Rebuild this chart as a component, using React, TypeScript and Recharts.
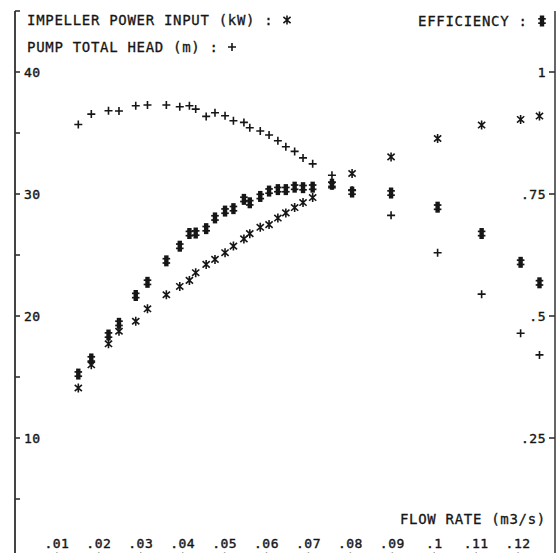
import React from 'react';
import { ScatterChart, Scatter, XAxis, YAxis } from 'recharts';

// Flow rate (m3/s) of each measurement
const flowRate = [
  0.0151, 0.0182, 0.0223, 0.0248, 0.0288, 0.0316, 0.0361, 0.0393, 0.0416, 0.0431,
  0.0456, 0.0477, 0.0501, 0.0521, 0.0546, 0.056, 0.0585, 0.0606, 0.0627, 0.0646,
  0.0667, 0.0687, 0.071, 0.0756, 0.0804, 0.0897, 0.1008, 0.1113, 0.1206, 0.1251,
];

// Pump total head (m) : +
const pumpHead = [
  35.7, 36.55, 36.82, 36.8, 37.23, 37.29, 37.29, 37.15, 37.23, 36.96,
  36.36, 36.66, 36.41, 36.0, 35.87, 35.43, 35.16, 34.83, 34.36, 33.87,
  33.49, 32.96, 32.47, 31.54, 30.3, 28.25, 25.19, 21.79, 18.59, 16.81,
];

// Impeller power input (kW) : *
const impellerPower = [
  14.1, 16.0, 17.72, 18.75, 19.57, 20.59, 21.74, 22.42, 22.92, 23.55,
  24.23, 24.64, 25.19, 25.73, 26.32, 26.75, 27.27, 27.49, 28.03, 28.45,
  28.89, 29.3, 29.71, 30.72, 31.68, 33.04, 34.55, 35.65, 36.11, 36.39,
];

// Efficiency : #
const efficiency = [
  0.381, 0.412, 0.461, 0.485, 0.542, 0.569, 0.613, 0.643, 0.669, 0.67,
  0.679, 0.701, 0.715, 0.72, 0.739, 0.732, 0.745, 0.756, 0.759, 0.759,
  0.764, 0.763, 0.764, 0.77, 0.754, 0.752, 0.723, 0.669, 0.61, 0.568,
];

const xTicks = [0.01, 0.02, 0.03, 0.04, 0.05, 0.06, 0.07, 0.08, 0.09, 0.1, 0.11, 0.12];
const xTickLabels = ['.01', '.02', '.03', '.04', '.05', '.06', '.07', '.08', '.09', '.1', '.11', '.12'];
const leftTicks = [0, 5, 10, 15, 20, 25, 30, 35, 40, 45];
const leftTickLabels = ['', '', '10', '', '20', '', '30', '', '40', ''];
const rightTicks = [0.25, 0.5, 0.75, 1];
const rightTickLabels = ['.25', '.5', '.75', '1'];

const headData = flowRate.map((x, i) => ({ x, y: pumpHead[i] }));
const powerData = flowRate.map((x, i) => ({ x, y: impellerPower[i] }));
const effData = flowRate.map((x, i) => ({ x, y: efficiency[i] }));

const FONT = "'DejaVu Sans Mono', 'Liberation Mono', monospace";
const INK = '#161616';

const PlusMark = ({ cx, cy }: any) => (
  <path
    d={`M${cx - 4},${cy} L${cx + 4},${cy} M${cx},${cy - 4} L${cx},${cy + 4}`}
    stroke={INK}
    strokeWidth={1.6}
    fill="none"
  />
);

const StarMark = ({ cx, cy }: any) => (
  <path
    d={`M${cx},${cy - 4.5} L${cx},${cy + 4.5} M${cx - 3.6},${cy - 3.2} L${cx + 3.6},${cy + 3.2} M${cx - 3.6},${cy + 3.2} L${cx + 3.6},${cy - 3.2}`}
    stroke={INK}
    strokeWidth={1.6}
    fill="none"
  />
);

const EffMark = ({ cx, cy }: any) => (
  <g fill={INK}>
    <rect x={cx - 2.2} y={cy - 5.5} width={4.4} height={11} />
    <rect x={cx - 3.8} y={cy - 3} width={7.6} height={1.7} />
    <rect x={cx - 3.8} y={cy + 1.3} width={7.6} height={1.7} />
  </g>
);

const findLabel = (ticks: number[], labels: string[], v: number) => {
  const i = ticks.findIndex((t) => Math.abs(t - v) < 1e-6);
  return i >= 0 ? labels[i] : '';
};

const tickText = {
  fontFamily: FONT,
  fontSize: 13,
  letterSpacing: 0.5,
  fill: INK,
  stroke: INK,
  strokeWidth: 0.4,
} as const;

const LeftTick = (props: any) => {
  const { x, y, payload } = props;
  const label = findLabel(leftTicks, leftTickLabels, payload.value);
  if (!label) return <g />;
  return (
    <text x={x} y={y} dy={4.7} textAnchor="start" {...tickText}>
      {label}
    </text>
  );
};

const RightTick = (props: any) => {
  const { x, y, payload } = props;
  const label = findLabel(rightTicks, rightTickLabels, payload.value);
  return (
    <text x={x} y={y} dy={4.7} textAnchor="end" {...tickText}>
      {label}
    </text>
  );
};

const BottomTick = (props: any) => {
  const { x, y, payload } = props;
  const label = findLabel(xTicks, xTickLabels, payload.value);
  return (
    <text x={x} y={y} textAnchor="middle" {...tickText}>
      {label}
    </text>
  );
};

const legendText = {
  fontFamily: FONT,
  fontSize: 14,
  letterSpacing: 0.7,
  fill: INK,
  stroke: INK,
  strokeWidth: 0.3,
} as const;

export default function App() {
  return (
    <div
      style={{
        position: 'absolute',
        left: 0,
        top: 0,
        width: 557,
        height: 553,
        overflow: 'hidden',
        background: '#fff',
      }}
    >
      <ScatterChart width={600} height={600} margin={{ top: 11, left: 15, right: 45, bottom: 40 }}>
        <XAxis
          type="number"
          dataKey="x"
          domain={[0, 0.1288]}
          allowDataOverflow
          ticks={xTicks}
          interval={0}
          mirror
          height={1}
          tickSize={8}
          tickMargin={4}
          tick={<BottomTick />}
          axisLine={{ stroke: '#555', strokeWidth: 2 }}
          tickLine={{ stroke: '#aaa', strokeWidth: 1.5 }}
        />
        <YAxis
          yAxisId="left"
          type="number"
          dataKey="y"
          domain={[0, 45]}
          allowDataOverflow
          ticks={leftTicks}
          interval={0}
          mirror
          width={1}
          tickSize={5}
          tickMargin={4}
          tick={<LeftTick />}
          axisLine={{ stroke: '#444', strokeWidth: 2 }}
          tickLine={{ stroke: '#333', strokeWidth: 1.6 }}
        />
        <YAxis
          yAxisId="right"
          orientation="right"
          type="number"
          dataKey="y"
          domain={[0, 1.125]}
          allowDataOverflow
          ticks={rightTicks}
          interval={0}
          mirror
          width={1}
          tickSize={6}
          tickMargin={3}
          tick={<RightTick />}
          axisLine={{ stroke: '#666', strokeWidth: 2 }}
          tickLine={{ stroke: '#333', strokeWidth: 1.6 }}
        />
        <Scatter data={headData} yAxisId="left" shape={<PlusMark />} isAnimationActive={false} />
        <Scatter data={powerData} yAxisId="left" shape={<StarMark />} isAnimationActive={false} />
        <Scatter data={effData} yAxisId="right" shape={<EffMark />} isAnimationActive={false} />
      </ScatterChart>
      <svg
        width={557}
        height={553}
        style={{ position: 'absolute', left: 0, top: 0, pointerEvents: 'none' }}
      >
        <text x={27} y={25} {...legendText}>IMPELLER POWER INPUT (kW) :</text>
        <StarMark cx={287} cy={20} />
        <text x={27} y={52} {...legendText}>PUMP TOTAL HEAD (m) :</text>
        <PlusMark cx={232} cy={47} />
        <text x={418} y={26} {...legendText}>EFFICIENCY :</text>
        <EffMark cx={542} cy={21} />
        <text x={546} y={524} textAnchor="end" {...legendText}>FLOW RATE (m3/s)</text>
      </svg>
    </div>
  );
}
